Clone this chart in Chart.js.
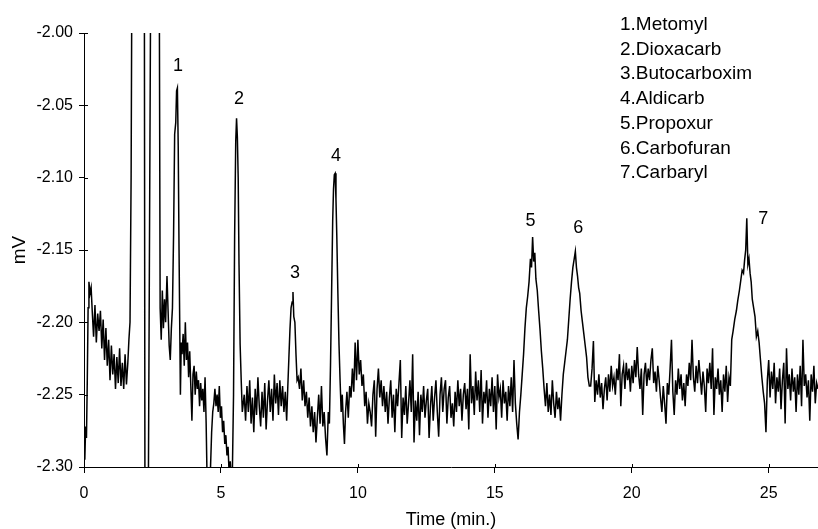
<!DOCTYPE html>
<html><head><meta charset="utf-8">
<script src="https://cdn.jsdelivr.net/npm/chart.js@4/dist/chart.umd.min.js"></script>
<style>html,body{margin:0;padding:0;background:#fff}</style>
</head><body>
<canvas id="c" width="818" height="529"></canvas>
<script>
// ---- DATA ----
const tOnset = [0,0.03,0.06,0.09,0.12,0.15,0.18,0.22,0.26,0.30,0.35,0.40,0.45,0.50,0.55,0.60,0.65,0.70,0.75,0.80,0.85,0.90,0.95,1.00,1.05,1.10,1.15,1.20,1.25,1.30,1.35,1.40,1.45,1.50,1.55,1.60,1.64,1.68];
const mvOnset = [-2.285,-2.295,-2.272,-2.280,-2.240,-2.190,-2.172,-2.180,-2.176,-2.192,-2.210,-2.188,-2.214,-2.194,-2.206,-2.192,-2.218,-2.198,-2.226,-2.204,-2.230,-2.212,-2.240,-2.216,-2.236,-2.222,-2.246,-2.224,-2.242,-2.218,-2.244,-2.228,-2.246,-2.222,-2.243,-2.228,-2.212,-2.200];

const tFront = [1.72,1.76,2.20,2.23,2.33,2.45,2.74,2.78,2.82,2.86,2.90,2.94,2.98,3.03,3.07,3.11,3.15,3.19,3.23,3.27,3.31,3.35,3.38,3.41,3.44,3.47,3.52,3.55];
const mvFront = [-2.100,-1.900,-1.900,-2.400,-2.400,-1.900,-1.900,-2.190,-2.212,-2.178,-2.204,-2.184,-2.200,-2.168,-2.192,-2.216,-2.226,-2.204,-2.190,-2.140,-2.070,-2.062,-2.040,-2.038,-2.078,-2.150,-2.250,-2.214];

const tDrift = [3.58,3.62,3.66,3.70,3.74,3.78,3.82,3.86,3.90,3.94,3.98,4.02,4.06,4.10,4.14,4.18,4.22,4.26,4.30,4.34,4.38,4.42,4.46,4.50,4.54,4.58,4.62,4.66,4.70,4.74,4.78,4.82,4.86,4.90,4.94,4.98,5.02,5.06,5.10,5.14,5.18,5.22,5.26,5.30,5.34,5.38];
const mvDrift = [-2.222,-2.208,-2.230,-2.200,-2.226,-2.214,-2.238,-2.220,-2.244,-2.268,-2.236,-2.230,-2.250,-2.234,-2.246,-2.240,-2.258,-2.242,-2.254,-2.246,-2.262,-2.238,-2.270,-2.315,-2.330,-2.318,-2.300,-2.276,-2.262,-2.256,-2.246,-2.258,-2.250,-2.262,-2.244,-2.266,-2.258,-2.276,-2.268,-2.284,-2.278,-2.292,-2.286,-2.305,-2.296,-2.310];

const tPeak2 = [5.42,5.46,5.50,5.54,5.57,5.60,5.63,5.66,5.70,5.74,5.78];
const mvPeak2 = [-2.300,-2.250,-2.140,-2.075,-2.059,-2.072,-2.100,-2.160,-2.215,-2.240,-2.262];

const tBase1 = [5.85,5.90,5.95,6.00,6.05,6.10,6.15,6.20,6.25,6.30,6.35,6.40,6.45,6.50,6.55,6.60,6.65,6.70,6.75,6.80,6.85,6.90,6.95,7.00,7.05,7.10,7.15,7.20,7.25,7.30,7.35,7.40];
const mvBase1 = [-2.250,-2.268,-2.244,-2.262,-2.240,-2.270,-2.252,-2.276,-2.246,-2.264,-2.238,-2.258,-2.272,-2.248,-2.266,-2.242,-2.274,-2.254,-2.240,-2.262,-2.246,-2.268,-2.236,-2.256,-2.242,-2.264,-2.240,-2.258,-2.244,-2.262,-2.248,-2.268];

const tPeak3 = [7.44,7.48,7.52,7.56,7.60,7.63,7.66,7.70,7.74,7.78,7.82];
const mvPeak3 = [-2.245,-2.225,-2.205,-2.190,-2.186,-2.179,-2.196,-2.200,-2.222,-2.240,-2.238];

const tBase2 = [7.87,7.92,7.97,8.02,8.07,8.12,8.17,8.22,8.27,8.32,8.37,8.42,8.47,8.52,8.57,8.62,8.67,8.72,8.77,8.82,8.87,8.92];
const mvBase2 = [-2.246,-2.232,-2.254,-2.240,-2.258,-2.248,-2.266,-2.252,-2.272,-2.258,-2.276,-2.262,-2.283,-2.266,-2.250,-2.270,-2.244,-2.272,-2.262,-2.280,-2.292,-2.262];

const tPeak4 = [8.96,9.00,9.04,9.08,9.11,9.14,9.17,9.20,9.23,9.27,9.31,9.35,9.39,9.43,9.47,9.51,9.55];
const mvPeak4 = [-2.270,-2.230,-2.180,-2.130,-2.108,-2.098,-2.097,-2.115,-2.140,-2.180,-2.215,-2.240,-2.262,-2.250,-2.270,-2.284,-2.262];

const tBump = [9.60,9.65,9.70,9.75,9.80,9.85,9.90,9.95,10.00,10.05,10.10,10.15,10.20,10.25,10.30,10.35,10.40];
const mvBump = [-2.248,-2.266,-2.244,-2.252,-2.232,-2.248,-2.214,-2.240,-2.212,-2.236,-2.226,-2.244,-2.236,-2.258,-2.248,-2.270,-2.256];

const tBase3 = [10.45,10.5,10.55,10.6,10.65,10.7,10.75,10.8,10.85,10.9,10.95,11,11.05,11.1,11.15,11.2,11.25,11.3,11.35,11.4,11.45,11.5,11.55,11.6,11.65,11.7,11.75,11.8,11.85,11.9,11.95,12,12.05,12.1,12.15,12.2,12.25,12.3,12.35,12.4,12.45,12.5,12.55,12.6,12.65,12.7,12.75,12.8,12.85,12.9,12.95,13,13.05,13.1,13.15,13.2,13.25,13.3,13.35,13.4,13.45,13.5,13.55,13.6,13.65,13.7,13.75,13.8,13.85,13.9,13.95,14,14.05,14.1,14.15,14.2,14.25,14.3,14.35,14.4,14.45,14.5,14.55,14.6,14.65,14.7,14.75,14.8,14.85,14.9,14.95,15,15.05,15.1,15.15,15.2,15.25,15.3,15.35,15.4,15.45,15.5,15.55,15.6,15.65,15.7,15.75,15.8,15.85];
const mvBase3 = [-2.262,-2.272,-2.250,-2.240,-2.279,-2.246,-2.232,-2.252,-2.240,-2.258,
-2.244,-2.262,-2.248,-2.270,-2.252,-2.240,-2.266,-2.250,-2.276,-2.246,
-2.258,-2.242,-2.226,-2.280,-2.252,-2.264,-2.244,-2.270,-2.256,-2.240,
-2.262,-2.222,-2.283,-2.254,-2.268,-2.248,-2.278,-2.250,-2.262,-2.244,
-2.266,-2.254,-2.246,-2.280,-2.258,-2.244,-2.268,-2.252,-2.240,-2.262,
-2.279,-2.250,-2.238,-2.262,-2.246,-2.240,-2.270,-2.252,-2.244,-2.266,
-2.256,-2.272,-2.248,-2.262,-2.240,-2.258,-2.246,-2.268,-2.250,-2.242,
-2.260,-2.246,-2.274,-2.222,-2.256,-2.244,-2.264,-2.234,-2.254,-2.240,
-2.262,-2.233,-2.270,-2.248,-2.256,-2.240,-2.266,-2.246,-2.258,-2.238,
-2.262,-2.244,-2.274,-2.236,-2.252,-2.246,-2.266,-2.240,-2.256,-2.248,
-2.268,-2.244,-2.258,-2.238,-2.262,-2.226,-2.256,-2.270,-2.281];

const tPeak5 = [15.90,15.95,16.00,16.05,16.10,16.15,16.20,16.25,16.30,16.34,16.38,16.42,16.46,16.50,16.55,16.60,16.65,16.70,16.75];
const mvPeak5 = [-2.262,-2.250,-2.236,-2.222,-2.204,-2.190,-2.182,-2.172,-2.156,-2.162,-2.141,-2.158,-2.152,-2.170,-2.178,-2.192,-2.205,-2.220,-2.232];

const tBase4 = [16.80,16.85,16.90,16.95,17.00,17.05,17.10,17.15,17.20,17.25,17.30,17.35,17.40,17.45];
const mvBase4 = [-2.246,-2.258,-2.242,-2.262,-2.250,-2.264,-2.240,-2.256,-2.266,-2.248,-2.260,-2.252,-2.268,-2.250];

const tPeak6 = [17.50,17.55,17.60,17.65,17.70,17.75,17.80,17.85,17.90,17.94,17.98,18.02,18.06,18.10,18.15,18.20,18.25,18.30,18.35,18.40,18.45];
const mvPeak6 = [-2.236,-2.228,-2.220,-2.212,-2.198,-2.184,-2.172,-2.162,-2.156,-2.151,-2.162,-2.168,-2.176,-2.180,-2.192,-2.200,-2.208,-2.216,-2.224,-2.238,-2.244];

const tBase5 = [18.5,18.55,18.6,18.65,18.7,18.75,18.8,18.85,18.9,18.95,19,19.05,19.1,19.15,19.2,19.25,19.3,19.35,19.4,19.45,19.5,19.55,19.6,19.65,19.7,19.75,19.8,19.85,19.9,19.95,20,20.05,20.1,20.15,20.2,20.25,20.3,20.35,20.4,20.45,20.5,20.55,20.6,20.65,20.7,20.75,20.8,20.85,20.9,20.95,21,21.05,21.1,21.15,21.2,21.25,21.3,21.35,21.4,21.45,21.5,21.55,21.6,21.65,21.7,21.75,21.8,21.85,21.9,21.95,22,22.05,22.1,22.15,22.2,22.25,22.3,22.35,22.4,22.45,22.5,22.55,22.6,22.65,22.7,22.75,22.8,22.85,22.9,22.95,23,23.05,23.1,23.15,23.2,23.25,23.3,23.35,23.4,23.45,23.5,23.55,23.6];
const mvBase5 = [-2.244,-2.232,-2.213,-2.255,-2.240,-2.250,-2.236,-2.252,-2.242,-2.260,
-2.246,-2.238,-2.254,-2.236,-2.248,-2.230,-2.244,-2.238,-2.250,-2.232,
-2.240,-2.222,-2.258,-2.236,-2.230,-2.246,-2.228,-2.240,-2.232,-2.248,
-2.230,-2.242,-2.226,-2.238,-2.217,-2.236,-2.246,-2.232,-2.264,-2.236,
-2.228,-2.244,-2.232,-2.240,-2.226,-2.218,-2.242,-2.234,-2.248,-2.230,
-2.240,-2.252,-2.262,-2.244,-2.256,-2.270,-2.242,-2.250,-2.232,-2.212,
-2.248,-2.264,-2.240,-2.250,-2.232,-2.246,-2.236,-2.254,-2.242,-2.258,
-2.236,-2.244,-2.228,-2.240,-2.212,-2.238,-2.248,-2.230,-2.242,-2.226,
-2.238,-2.250,-2.234,-2.244,-2.262,-2.232,-2.242,-2.228,-2.246,-2.218,
-2.264,-2.238,-2.246,-2.232,-2.250,-2.240,-2.262,-2.236,-2.248,-2.230,
-2.255,-2.238,-2.244];

const tPeak7 = [23.65,23.70,23.76,23.82,23.87,23.93,23.98,24.03,24.08,24.12,24.16,24.20,24.24,24.28,24.32,24.36,24.40,24.45,24.50,24.55,24.60,24.65,24.70,24.75,24.80,24.85];
const mvPeak7 = [-2.212,-2.206,-2.198,-2.192,-2.185,-2.178,-2.171,-2.164,-2.166,-2.157,-2.150,-2.128,-2.160,-2.156,-2.166,-2.172,-2.184,-2.190,-2.196,-2.210,-2.206,-2.214,-2.226,-2.238,-2.248,-2.256];

const tTail = [24.9,24.95,25,25.05,25.1,25.15,25.2,25.25,25.3,25.35,25.4,25.45,25.5,25.55,25.6,25.65,25.7,25.75,25.8,25.85,25.9,25.95,26,26.05,26.1,26.15,26.2,26.25,26.3,26.35,26.4,26.45,26.5,26.55,26.6,26.65,26.7,26.75,26.8];
const mvTail = [-2.276,-2.240,-2.226,-2.252,-2.234,-2.246,-2.228,-2.256,-2.238,-2.248,
-2.232,-2.260,-2.240,-2.228,-2.270,-2.218,-2.246,-2.236,-2.254,-2.232,
-2.248,-2.238,-2.262,-2.236,-2.250,-2.230,-2.258,-2.212,-2.244,-2.236,
-2.252,-2.240,-2.268,-2.236,-2.248,-2.230,-2.256,-2.242,-2.246];

const xTicks = [0, 5, 10, 15, 20, 25];
const yTicks = [-2.30, -2.25, -2.20, -2.15, -2.10, -2.05, -2.00];
const peakNumbers = ['1','2','3','4','5','6','7'];
const compounds = ['Metomyl','Dioxacarb','Butocarboxim','Aldicarb','Propoxur','Carbofuran','Carbaryl'];

// ---- label placement (data coordinates of label baselines) ----
const peakLabelAt = [[3.43,-2.0266],[5.66,-2.0494],[7.70,-2.1697],[9.20,-2.0888],[16.30,-2.1337],[18.05,-2.1385],[24.80,-2.1323]];

const segs = [[tOnset,mvOnset],[tFront,mvFront],[tDrift,mvDrift],[tPeak2,mvPeak2],[tBase1,mvBase1],[tPeak3,mvPeak3],[tBase2,mvBase2],[tPeak4,mvPeak4],[tBump,mvBump],[tBase3,mvBase3],[tPeak5,mvPeak5],[tBase4,mvBase4],[tPeak6,mvPeak6],[tBase5,mvBase5],[tPeak7,mvPeak7],[tTail,mvTail]];
const points = [];
segs.forEach(([t, v]) => { t.forEach((x, i) => points.push({x: x, y: v[i]})); });

const FONT = '"Liberation Sans", Arial, Helvetica, sans-serif';

const annot = {
  id: 'annot',
  afterDraw(chart) {
    const {ctx, chartArea, scales: {x, y}} = chart;
    ctx.save();
    ctx.strokeStyle = '#000'; ctx.lineWidth = 1;
    ctx.beginPath();
    xTicks.forEach(v => { const px = Math.round(x.getPixelForValue(v)) + 0.5; ctx.moveTo(px, chartArea.bottom); ctx.lineTo(px, chartArea.bottom - 3); });
    yTicks.forEach(v => { const py = Math.round(y.getPixelForValue(v)) + 0.5; ctx.moveTo(chartArea.left, py); ctx.lineTo(chartArea.left + 4, py); });
    ctx.stroke();
    ctx.fillStyle = '#000';
    ctx.font = '18px ' + FONT;
    ctx.textAlign = 'center'; ctx.textBaseline = 'alphabetic';
    peakNumbers.forEach((s, i) => {
      ctx.fillText(s, x.getPixelForValue(peakLabelAt[i][0]), y.getPixelForValue(peakLabelAt[i][1]));
    });
    ctx.font = '19px ' + FONT;
    ctx.textAlign = 'left';
    compounds.forEach((c, i) => { ctx.fillText(peakNumbers[i] + '.' + c, 620, 30 + i * 24.7); });
    ctx.restore();
  }
};

new Chart(document.getElementById('c'), {
  type: 'line',
  data: { datasets: [{ data: points, borderColor: '#000', borderWidth: 1.5, pointRadius: 0, tension: 0, clip: 0, fill: false }] },
  options: {
    responsive: false, animation: false, devicePixelRatio: 1,
    layout: { padding: { top: 33, right: 0, bottom: 0, left: 0 }, autoPadding: false },
    plugins: { legend: { display: false }, tooltip: { enabled: false } },
    scales: {
      x: {
        type: 'linear', min: 0, max: 26.8,
        afterFit: s => { s.height = 62; },
        afterBuildTicks: s => { s.ticks = xTicks.map(v => ({ value: v })); },
        ticks: { color: '#000', font: { family: FONT, size: 16 }, padding: 11, maxRotation: 0, callback: v => String(v) },
        grid: { display: true, drawOnChartArea: false, drawTicks: true, tickLength: 6, color: '#000', lineWidth: 1 },
        border: { display: true, color: '#000', width: 1 },
        title: { display: true, text: 'Time (min.)', color: '#000', font: { family: FONT, size: 18, lineHeight: 1 }, padding: { top: 0, bottom: 0 } }
      },
      y: {
        type: 'linear', min: -2.30, max: -2.00,
        afterFit: s => { s.width = 84; },
        afterBuildTicks: s => { s.ticks = yTicks.map(v => ({ value: v })); },
        ticks: { color: '#000', font: { family: FONT, size: 16 }, padding: 6, callback: v => Number(v).toFixed(2) },
        grid: { display: true, drawOnChartArea: false, drawTicks: true, tickLength: 5, color: '#000', lineWidth: 1 },
        border: { display: true, color: '#000', width: 1 },
        title: { display: true, text: 'mV', color: '#000', font: { family: FONT, size: 19, lineHeight: 1 }, padding: { top: 10, bottom: 0 } }
      }
    }
  },
  plugins: [annot]
});
</script>
</body></html>
